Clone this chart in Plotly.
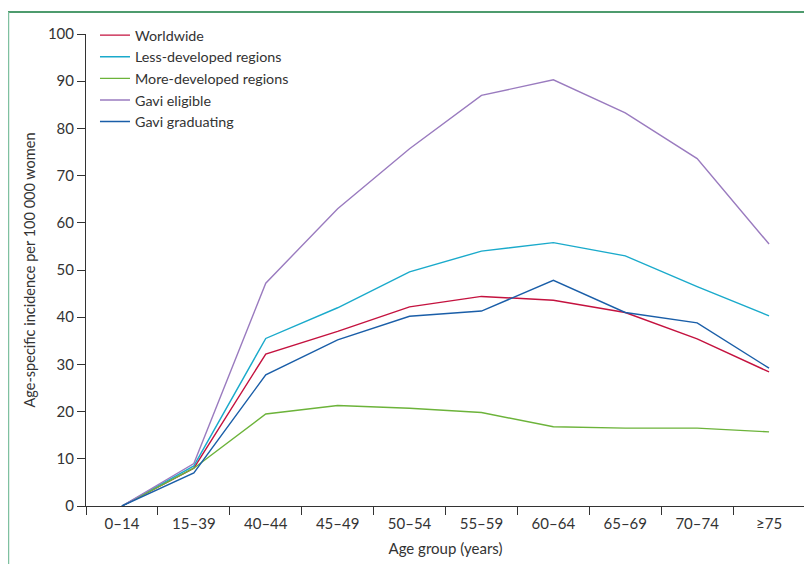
import plotly.graph_objects as go

age_groups = ["0–14", "15–39", "40–44", "45–49", "50–54", "55–59", "60–64", "65–69", "70–74", "≥75"]
worldwide = [0, 8, 32.2, 37, 42.2, 44.4, 43.6, 41, 35.4, 28.4]
less_developed = [0, 8.5, 35.5, 42, 49.6, 54, 55.8, 53, 46.5, 40.3]
more_developed = [0, 8, 19.5, 21.3, 20.7, 19.8, 16.8, 16.5, 16.5, 15.7]
gavi_eligible = [0, 9, 47.2, 63, 75.7, 87, 90.3, 83.3, 73.6, 55.5]
gavi_graduating = [0, 7, 27.8, 35.2, 40.2, 41.3, 47.8, 41, 38.8, 29.2]

series = [
    ("Worldwide", worldwide, "#c4123f"),
    ("Less-developed regions", less_developed, "#1aaacb"),
    ("More-developed regions", more_developed, "#6cb33a"),
    ("Gavi eligible", gavi_eligible, "#9a7bbf"),
    ("Gavi graduating", gavi_graduating, "#1a5ea8"),
]

FONT = "Lato, Open Sans, sans-serif"
fig = go.Figure()
for name, vals, col in series:
    fig.add_trace(go.Scatter(x=age_groups, y=vals, name=name, mode="lines",
                             line=dict(color=col, width=1.4)))

# the page body has an 8px margin, so the figure is laid out 8px in from the window edges
fig.update_layout(
    width=812, height=564,
    margin=dict(l=78, r=15, t=26, b=66, autoexpand=False),
    paper_bgcolor="white", plot_bgcolor="white",
    font=dict(family=FONT, size=15, color="#333333"),
    showlegend=True,
    legend=dict(x=0.0125, y=1.031, xanchor="left", yanchor="top",
                bgcolor="rgba(0,0,0,0)", font=dict(size=14.3, color="#333333"),
                tracegroupgap=0, itemwidth=30),
    xaxis=dict(type="category", tickson="boundaries", ticks="outside", ticklen=8,
               tickcolor="#333333", showline=True, linecolor="#333333", linewidth=1,
               showgrid=False, zeroline=False, range=[-0.5, 9.5], automargin=False,
               ticklabelstandoff=4,
               title=dict(text="Age group (years)", font=dict(size=15), standoff=12),
               tickfont=dict(size=15)),
    yaxis=dict(range=[0, 100], tickvals=list(range(0, 101, 10)), ticks="outside", ticklen=8,
               tickcolor="#333333", showline=True, linecolor="#333333", linewidth=1,
               showgrid=False, zeroline=False, automargin=False,
               title=dict(text="Age-specific incidence per 100 000 women", font=dict(size=14.5), standoff=8),
               tickfont=dict(size=15)),
    shapes=[
        dict(type="line", xref="paper", yref="paper", x0=-0.1085, x1=1.03, y0=1.0466, y1=1.0466,
             line=dict(color="#137a3c", width=1.5)),
        dict(type="line", xref="paper", yref="paper", x0=-0.1085, x1=-0.1085, y0=1.0466, y1=-0.15,
             line=dict(color="#7fc0a0", width=2.5)),
    ],
)

fig.write_html("out.html")
